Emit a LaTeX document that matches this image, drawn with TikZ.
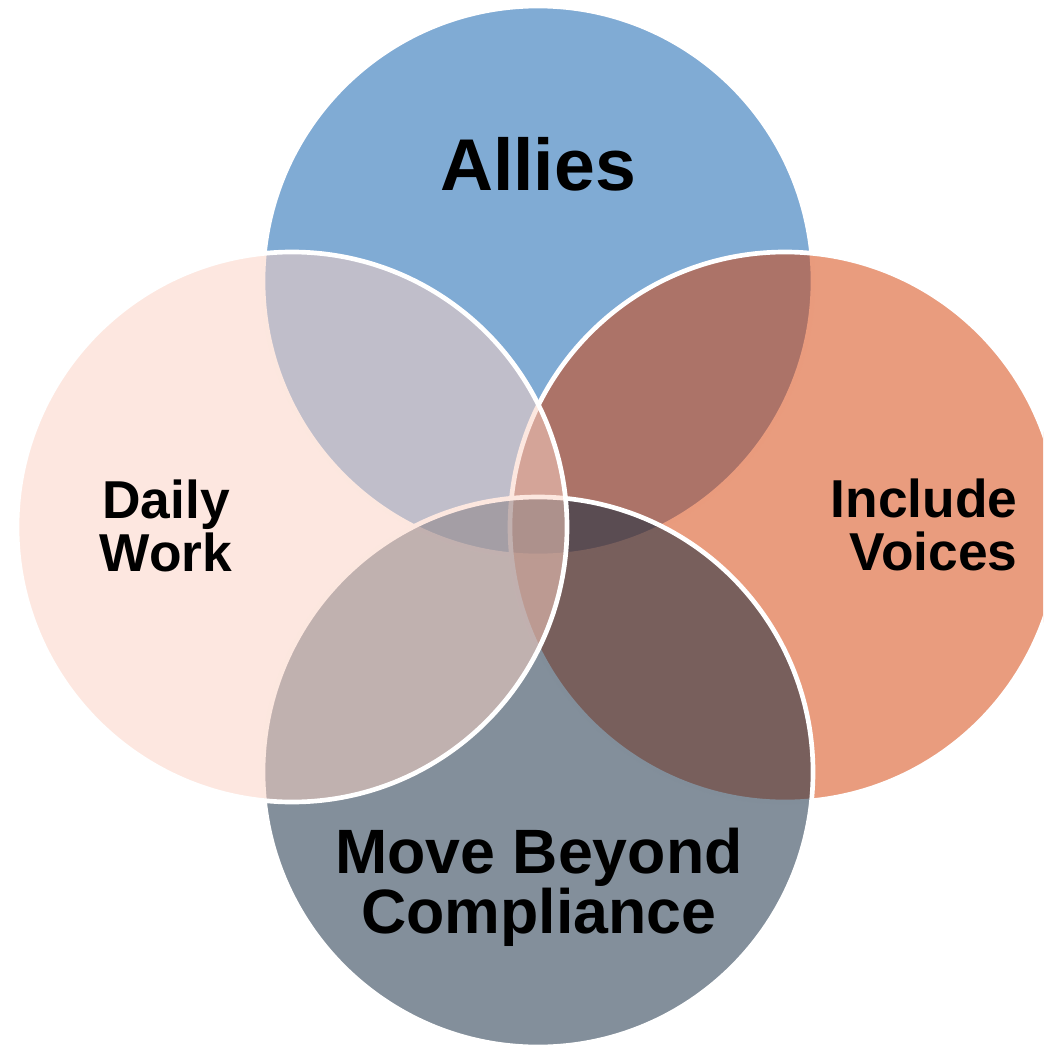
\documentclass[tikz,border=0pt]{standalone}
\usepackage{fontspec}
\setmainfont{Liberation Sans}

\definecolor{alliesblue}{RGB}{11,93,172}
\definecolor{voicesorange}{RGB}{213,65,7}
\definecolor{beyondnavy}{RGB}{17,40,63}
\definecolor{dailypink}{RGB}{251,209,195}

\tikzset{every picture/.style={line width=0.75pt}}
\tikzset{venn/.style={draw=white, line width=3.5pt, fill opacity=0.52}}

\begin{document}
\begin{tikzpicture}[x=0.75pt,y=0.75pt,yscale=-1,xscale=1]
	%uncomment if require: \path (0,1048); %set diagram left start at 0, and has height of 1048
	\useasboundingbox (0,0) rectangle (1043,1048);
	\clip (0,0) rectangle (1043,1048);
	
	%Shape: Circle [id:allies]
	\draw [venn, fill=alliesblue] (538,281) circle (275) ;
	%Shape: Circle [id:voices]
	\draw [venn, fill=voicesorange] (785,527) circle (275) ;
	%Shape: Circle [id:beyond]
	\draw [venn, fill=beyondnavy] (538,772) circle (275) ;
	%Shape: Circle [id:daily]
	\draw [venn, fill=dailypink] (292,527) circle (275) ;
	
	\draw (538,191) node [anchor=base][inner sep=0pt][font=\bfseries\fontsize{55}{55}\selectfont] (allies) {Allies};
	\draw (166,571) node [anchor=base][inner sep=0pt][align=center][font=\bfseries\fontsize{40}{39.5}\selectfont] (daily) {Daily\\Work};
	\draw (1018,570) node [anchor=base east][inner sep=0pt][align=right][font=\bfseries\fontsize{40}{39.5}\selectfont] (voices) {Include\\Voices};
	\draw (539,933) node [anchor=base][inner sep=0pt][align=center][font=\bfseries\fontsize{47}{43}\selectfont] (beyond) {Move Beyond\\Compliance};
	
\end{tikzpicture}
\end{document}
